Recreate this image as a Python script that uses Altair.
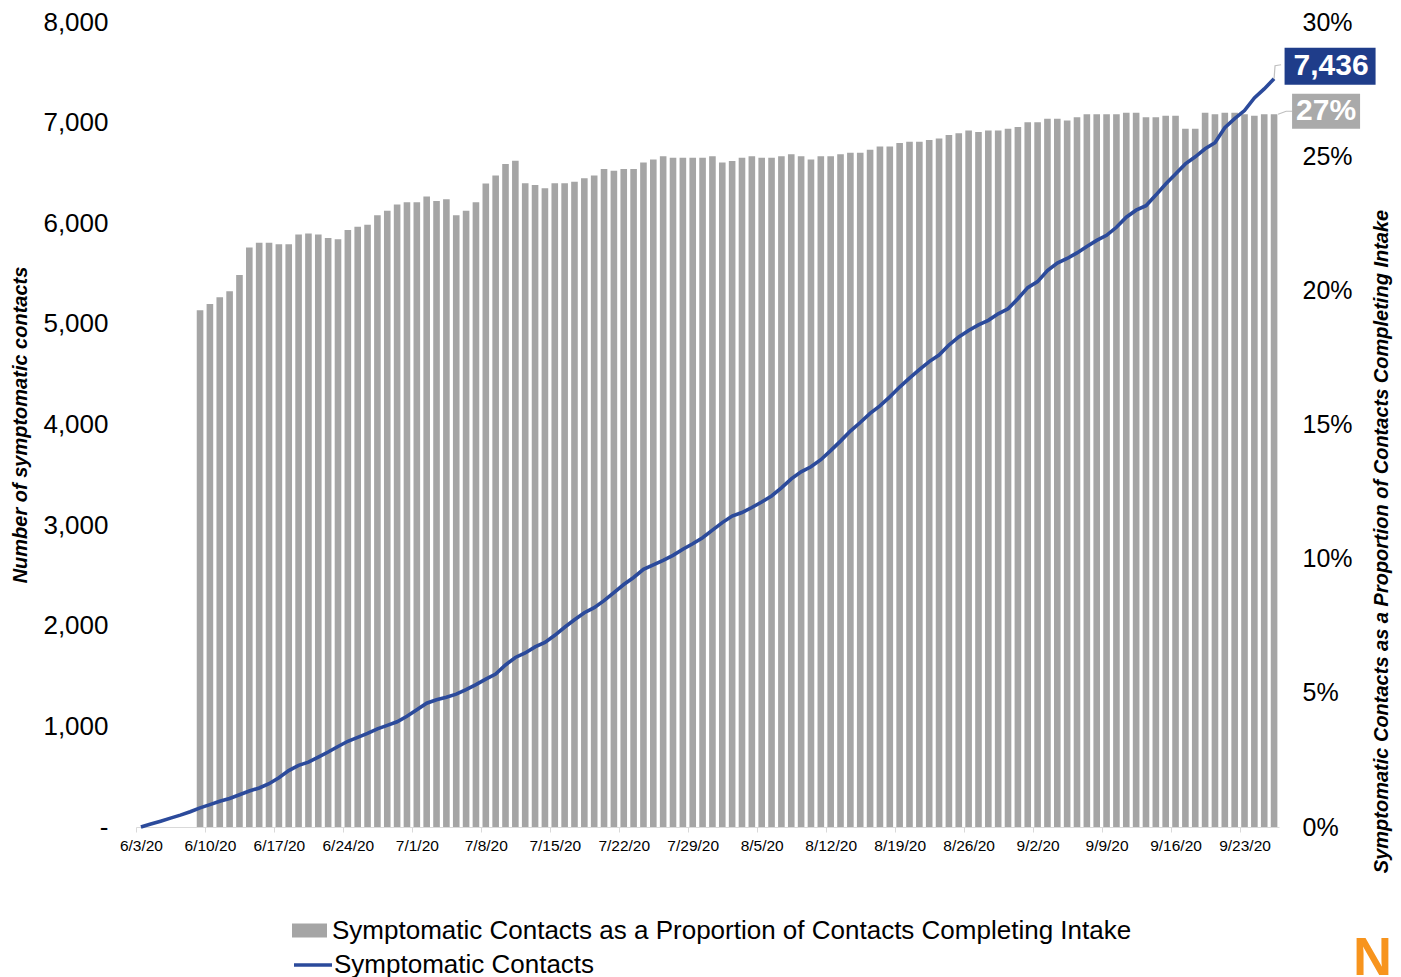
import altair as alt
import pandas as pd

# ---------------- data ----------------
n_days = 116
dates = pd.date_range("2020-06-03", periods=n_days, freq="D")
date_labels = [f"{d.month}/{d.day}/{d.year % 100}" for d in dates]
tick_labels = date_labels[::7]

# cumulative symptomatic contacts, 6/3/20 .. 9/26/20
symptomatic_contacts = [
    0, 30, 58, 88, 118, 152, 190, 222, 255, 284,
    320, 358, 388, 430, 490, 560, 612, 645, 695, 745,
    800, 852, 890, 930, 975, 1010, 1046, 1100, 1165, 1230,
    1265, 1290, 1320, 1365, 1415, 1470, 1520, 1610, 1685, 1730,
    1790, 1835, 1905, 1985, 2060, 2130, 2180, 2250, 2330, 2410,
    2480, 2560, 2605, 2650, 2700, 2760, 2815, 2875, 2950, 3025,
    3090, 3125, 3175, 3230, 3290, 3370, 3460, 3530, 3580, 3650,
    3740, 3835, 3935, 4020, 4110, 4185, 4275, 4372, 4460, 4545,
    4625, 4690, 4790, 4870, 4935, 4990, 5035, 5100, 5150, 5250,
    5360, 5420, 5530, 5605, 5650, 5705, 5770, 5830, 5880, 5960,
    6060, 6130, 6175, 6280, 6390, 6490, 6590, 6660, 6740, 6800,
    6950, 7040, 7120, 7245, 7335, 7436,
]

# proportion (%) of contacts completing intake who are symptomatic, 6/9/20 .. 9/26/20
bar_first_day = 6
proportion_pct = [
    19.26, 19.49, 19.74, 19.97, 20.57, 21.60, 21.77, 21.77, 21.72, 21.72,
    22.08, 22.12, 22.08, 21.95, 21.90, 22.25, 22.37, 22.44, 22.80, 22.97,
    23.20, 23.28, 23.28, 23.50, 23.33, 23.39, 22.80, 22.97, 23.28, 23.98,
    24.28, 24.71, 24.83, 23.99, 23.93, 23.80, 23.99, 23.99, 24.05, 24.18,
    24.28, 24.52, 24.46, 24.52, 24.52, 24.76, 24.88, 25.00, 24.94, 24.94,
    24.94, 24.94, 25.00, 24.76, 24.82, 24.94, 25.00, 24.94, 24.94, 25.00,
    25.07, 25.00, 24.88, 25.00, 25.00, 25.07, 25.13, 25.13, 25.24, 25.36,
    25.36, 25.49, 25.54, 25.54, 25.60, 25.66, 25.79, 25.85, 25.96, 25.90,
    25.96, 25.96, 26.02, 26.09, 26.26, 26.26, 26.39, 26.39, 26.33, 26.45,
    26.56, 26.56, 26.56, 26.56, 26.62, 26.62, 26.45, 26.45, 26.51, 26.51,
    26.02, 26.02, 26.62, 26.56, 26.62, 26.62, 26.56, 26.51, 26.56, 26.56,
]

left_ticks = list(range(0, 8001, 1000))
right_ticks = [0, 0.05, 0.10, 0.15, 0.20, 0.25, 0.30]

BAR_NAME = "Symptomatic Contacts as a Proportion of Contacts Completing Intake"
LINE_NAME = "Symptomatic Contacts"

line_df = pd.DataFrame({"date": date_labels, "contacts": symptomatic_contacts, "series": LINE_NAME})
bar_df = pd.DataFrame({
    "date": date_labels[bar_first_day:],
    "share": [p / 100 for p in proportion_pct],
    "series": BAR_NAME,
})
last_line = line_df.tail(1).copy()
last_line["label"] = last_line["contacts"].map(lambda v: f"{v:,}")
last_bar = bar_df.tail(1).copy()
last_bar["label"] = last_bar["share"].map(lambda v: f"{v:.0%}")
logo_df = pd.DataFrame({"logo": ["N"]})

# ---------------- styling ----------------
FONT = "Liberation Sans"
W, H = 1143, 805
step = W / n_days
LINE_COLOR = "#2b4a9b"
BOX_BLUE = "#1f3d8a"
BAR_COLOR = "#a5a5a5"
BOX_GRAY = "#aaaaaa"
LEADER = "#bfbfbf"

x_enc = alt.X(
    "date:O",
    sort=date_labels,
    scale=alt.Scale(domain=date_labels, paddingInner=0.33, paddingOuter=0.165),
    axis=alt.Axis(
        values=tick_labels, labelAngle=0, title=None, grid=False,
        domainColor="#d9d9d9", tickColor="#d9d9d9", tickSize=5,
        tickOffset=-step / 2, labelOffset=step / 2,
        labelFontSize=15.5, labelFont=FONT,
        labelColor="#000000", labelPadding=6, labelOverlap=False,
    ),
)

y_left = alt.Y(
    "contacts:Q",
    scale=alt.Scale(domain=[0, 8000], nice=False),
    axis=alt.Axis(
        orient="left", values=left_ticks, grid=False, domain=False, ticks=False,
        labelExpr="datum.value == 0 ? '-\u00a0\u00a0' : format(datum.value, ',')",
        labelFontSize=26, labelFont=FONT, labelColor="#000000", labelPadding=28,
        title="Number of symptomatic contacts", titleFont=FONT, titleFontSize=20,
        titleFontStyle="italic", titleFontWeight="bold", titleColor="#000000",
        titleX=-106, titleBaseline="bottom",
    ),
)

y_right = alt.Y(
    "share:Q",
    scale=alt.Scale(domain=[0, 0.3], nice=False),
    axis=alt.Axis(
        orient="right", values=right_ticks, format=".0%", grid=False,
        domain=False, ticks=False, labelFontSize=25, labelFont=FONT,
        labelColor="#000000", labelPadding=23,
        title=BAR_NAME, titleFont=FONT, titleFontSize=20, titleFontStyle="italic",
        titleFontWeight="bold", titleColor="#000000", titleAngle=270,
        titleX=112, titleY=519, titleBaseline="bottom", titleAlign="center",
    ),
)

bars = alt.Chart(bar_df).mark_bar().encode(
    x=x_enc,
    y=y_right,
    fill=alt.Fill(
        "series:N",
        scale=alt.Scale(range=[BAR_COLOR]),
        legend=alt.Legend(
            title=None, orient="none", legendX=156, legendY=891,
            symbolType="M-1,-0.4H1V0.4H-1Z", symbolSize=1225, symbolStrokeWidth=0,
            labelFontSize=26, labelFont=FONT, labelColor="#000000",
            labelOffset=5, labelLimit=0,
        ),
    ),
)

bar_leader = alt.Chart(last_bar).mark_point(
    shape="M0.22,0L0.67,-0.17L1,-0.17", size=1296, filled=False, opacity=1,
    stroke=LEADER, strokeWidth=1.2,
).encode(x=x_enc, y=y_right)

bar_box = alt.Chart(last_bar).mark_point(
    shape="M-1,-0.515H1V0.515H-1Z", size=4624, filled=True, opacity=1,
    fill=BOX_GRAY, strokeWidth=0, xOffset=52, yOffset=-3,
).encode(x=x_enc, y=y_right)

bar_text = alt.Chart(last_bar).mark_text(
    dx=52, dy=-3, fontSize=30, fontWeight="bold", font=FONT, color="white",
    align="center", baseline="middle",
).encode(x=x_enc, y=y_right, text="label:N")

line = alt.Chart(line_df).mark_line(strokeWidth=3.6).encode(
    x=x_enc,
    y=y_left,
    stroke=alt.Stroke(
        "series:N",
        scale=alt.Scale(range=[LINE_COLOR]),
        legend=alt.Legend(
            title=None, orient="none", legendX=156, legendY=922,
            symbolType="stroke", symbolSize=1444, symbolStrokeWidth=3.5,
            labelFontSize=26, labelFont=FONT, labelColor="#000000",
            labelOffset=0, labelLimit=0,
        ),
    ),
)

line_leader = alt.Chart(last_line).mark_point(
    shape="M0,0L0.07,-0.93L0.5,-1", size=784, filled=False, opacity=1,
    stroke=LEADER, strokeWidth=1.2,
).encode(x=x_enc, y=y_left)

line_box = alt.Chart(last_line).mark_point(
    shape="M-1,-0.4066H1V0.4066H-1Z", size=8281, filled=True, opacity=1,
    fill=BOX_BLUE, strokeWidth=0, xOffset=56, yOffset=-12.5,
).encode(x=x_enc, y=y_left)

line_text = alt.Chart(last_line).mark_text(
    dx=57, dy=-12.5, fontSize=30, fontWeight="bold", font=FONT, color="white",
    align="center", baseline="middle",
).encode(x=x_enc, y=y_left, text="label:N")

logo = alt.Chart(logo_df).mark_text(
    fontSize=54, fontWeight="bold", font=FONT, color="#f7941d",
    align="left", baseline="alphabetic",
).encode(x=alt.value(1217), y=alt.value(953), text="logo:N")

bar_layer = alt.layer(bars, bar_leader, bar_box, bar_text)
line_layer = alt.layer(line, line_leader, line_box, line_text, logo)

chart = (
    alt.layer(bar_layer, line_layer)
    .resolve_scale(y="independent")
    .properties(
        width=W,
        height=H,
        autosize=alt.AutoSizeParams(type="none"),
        padding={"left": 128, "top": 14, "right": 114, "bottom": 156},
    )
    .configure_view(stroke=None)
    .configure_axis(grid=False)
)

chart.save("out.html", embed_options={"renderer": "svg", "actions": False})
